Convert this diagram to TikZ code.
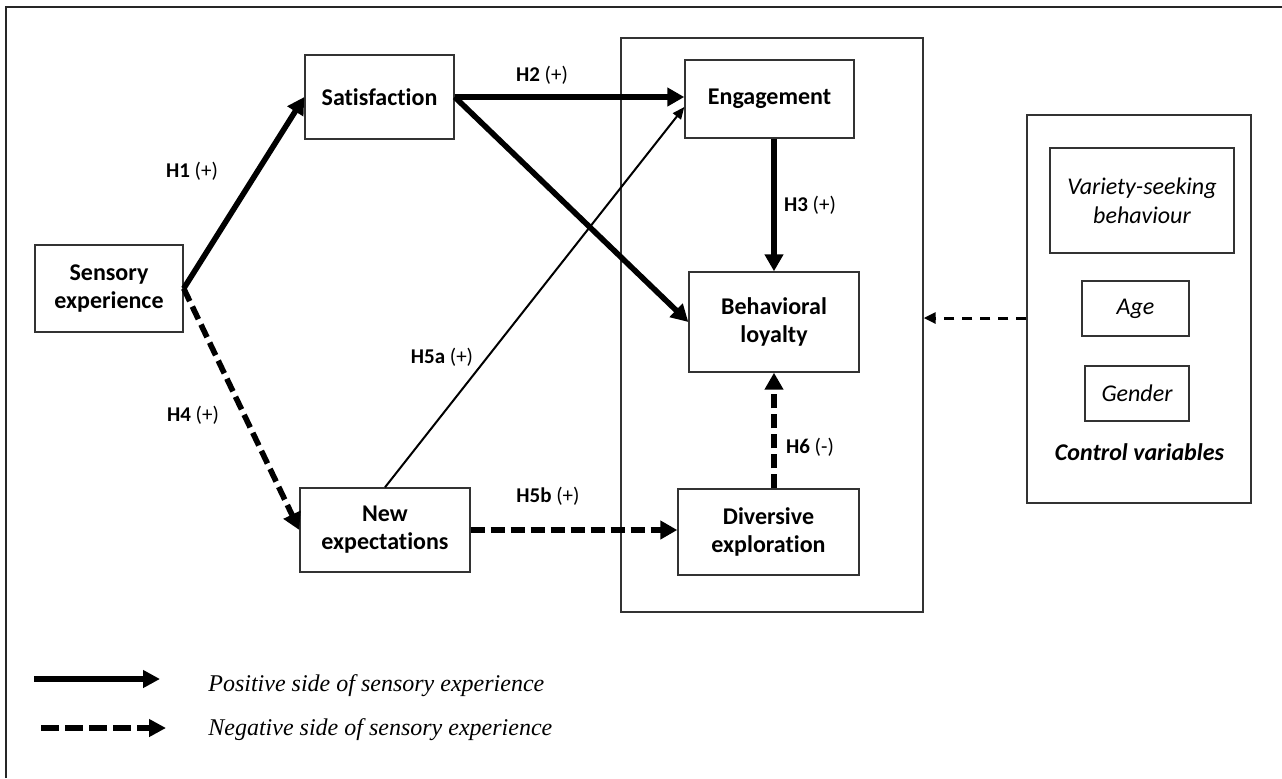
\documentclass[tikz,border=0pt]{standalone}
\usepackage{fontspec}
\setmainfont{Carlito}[Ligatures=NoCommon]
\newfontfamily\legendfont{Liberation Serif}
\usetikzlibrary{arrows.meta,calc}
\tikzset{
  box/.style={draw=black!80, line width=.7pt, align=center, inner sep=0pt,
    font=\bfseries\fontsize{12}{14}\selectfont},
  ctlbox/.style={box, font=\itshape\fontsize{12}{14.5}\selectfont},
  frame/.style={draw=black!80, line width=.7pt, inner sep=0pt},
  hyp/.style={inner sep=0pt, font=\fontsize{10.5}{12}\selectfont},
  legtext/.style={anchor=west, inner sep=0pt, font=\legendfont\itshape\fontsize{12}{14}\selectfont},
  solidlink/.style={line width=2.8pt, -{Triangle[length=8.5pt,width=9pt]}},
  dashlink/.style={solidlink, dash pattern=on 7pt off 3pt},
  weaklink/.style={line width=1pt, -{Triangle[length=6pt,width=5pt]}},
}
\begin{document}
\begin{tikzpicture}[x=0.5pt,y=-0.5pt]
\useasboundingbox (0,0) rectangle (1282,778);
% outer frame
\draw[black!85, line width=1pt] (6,778) -- (6,7) -- (1282,7);
% outcome block and controls
\node[frame, minimum width=151pt, minimum height=287pt] (inner) at (772,325) {};
\node[frame, minimum width=112pt, minimum height=194pt] (ctrl) at (1139,309) {};
% constructs
\node[box, minimum width=74pt, minimum height=43.5pt] (sens) at (109,288.5) {Sensory\\experience};
\node[box, minimum width=74.5pt, minimum height=42pt] (sat) at (379.5,97) {Satisfaction};
\node[box, minimum width=84.5pt, minimum height=39pt] (eng) at (769.5,99) {Engagement};
\node[box, minimum width=85pt, minimum height=50pt] (loy) at (774,322) {Behavioral\\loyalty};
\node[box, minimum width=85pt, minimum height=42pt] (newexp) at (385,530) {New\\expectations};
\node[box, minimum width=90.5pt, minimum height=43pt] (div) at (768.5,532) {Diversive\\exploration};
% control variables
\node[ctlbox, minimum width=92pt, minimum height=52.5pt] (var) at (1142,200.5) {Variety-seeking\\behaviour};
\node[ctlbox, minimum width=53.5pt, minimum height=27.5pt] (age) at (1135.5,308.5) {Age};
\node[ctlbox, minimum width=52pt, minimum height=27.5pt] (gen) at (1137,393.5) {Gender};
\node[inner sep=0pt, font=\bfseries\itshape\fontsize{12}{14}\selectfont] (ctrltitle) at (1139.5,452) {Control variables};
% hypotheses
\draw[solidlink] (sens.east) -- (sat.west);
\draw[solidlink] (sat.east) -- (sat.east -| eng.west);
\draw[solidlink] (sat.east) -- (loy.west);
\draw[solidlink] (loy.north |- eng.south) -- (loy.north);
\draw[dashlink] (sens.east) -- (newexp.west);
\draw[weaklink] (newexp.north) -- ($(eng.west)+(0,8)$);
\draw[dashlink] (newexp.east) -- (newexp.east -| div.west);
\draw[dashlink] (loy.south |- div.north) -- (loy.south);
\coordinate (cv) at ($(ctrl.west)+(0,9)$);
\draw[line width=1.5pt, dash pattern=on 5pt off 4pt, -{Triangle[length=6pt,width=5.5pt]}]
  (cv) -- (cv -| inner.east);
% labels
\node[hyp] (h1) at (192,171) {\textbf{H1} (+)};
\node[hyp] (h2) at (542,75) {\textbf{H2} (+)};
\node[hyp] (h3) at (810,205) {\textbf{H3} (+)};
\node[hyp] (h4) at (193,415) {\textbf{H4} (+)};
\node[hyp] (h5a) at (442,357) {\textbf{H5a} (+)};
\node[hyp] (h5b) at (548,496) {\textbf{H5b} (+)};
\node[hyp] (h6) at (810,447) {\textbf{H6} (-)};
% legend
\coordinate (lp) at (34,679);
\coordinate (ln) at (41,728);
\draw[line width=3pt, -{Triangle[length=8.5pt,width=8.5pt]}] (lp) -- ++(126,0);
\draw[line width=3pt, dash pattern=on 9pt off 3pt, -{Triangle[length=8.5pt,width=8.5pt]}] (ln) -- ++(125,0);
\node[legtext] (lpt) at (208,686) {Positive side of sensory experience};
\node[legtext] (lnt) at (208,730) {Negative side of sensory experience};
\end{tikzpicture}
\end{document}
